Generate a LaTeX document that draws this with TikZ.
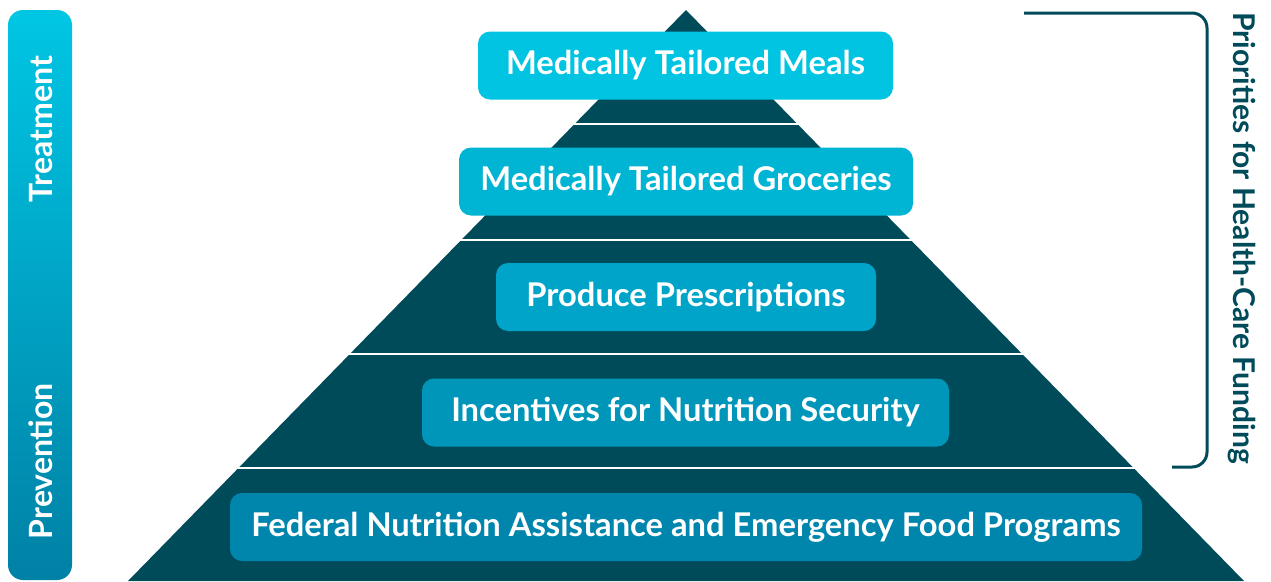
\documentclass[tikz,border=0pt]{standalone}
\usepackage{fontspec}
\setmainfont{Lato}
\definecolor{dark}{HTML}{004B5A}
\definecolor{cA}{HTML}{00C4E1}
\definecolor{cB}{HTML}{00B4D4}
\definecolor{cC}{HTML}{00A4C8}
\definecolor{cD}{HTML}{0096BA}
\definecolor{cE}{HTML}{0086AD}
\definecolor{barTop}{HTML}{00C6E4}
\definecolor{barBot}{HTML}{0081A5}
\tikzset{
  tier/.style={rounded corners=12pt, inner sep=0pt, text=white, font=\fontsize{32.7}{36}\selectfont\bfseries},
  sidelabel/.style={text=white, font=\fontsize{32}{36}\selectfont\bfseries, inner sep=0pt, anchor=base, rotate=90},
  sep/.style={white, line width=2pt},
}
\begin{document}
\begin{tikzpicture}[x=1pt,y=-1pt]
\useasboundingbox (0,0) rectangle (1271,581);
% pyramid
\fill[dark] (686,10) -- (1244,581) -- (128,581) -- cycle;
\foreach \yy in {124,240,354,468} {
  \draw[sep] (120,\yy) -- (1160,\yy);
}
% left bar
\shade[top color=barTop, bottom color=barBot, rounded corners=15pt] (8,10) rectangle (72,580);
\node[sidelabel] (treat) at (52,129) {Treatment};
\node[sidelabel] (prev) at (52,461) {Prevention};
% tiers
\node[tier, fill=cA, minimum width=415pt, minimum height=68pt] (t1) at (685.5,65.5) {Medically Tailored Meals};
\node[tier, fill=cB, minimum width=454pt, minimum height=68pt] (t2) at (686,181.5) {Medically Tailored Groceries};
\node[tier, fill=cC, minimum width=380pt, minimum height=68pt] (t3) at (686,297) {Produce Prescriptions};
\node[tier, fill=cD, minimum width=527pt, minimum height=68pt] (t4) at (685.5,412.5) {Incentives for Nutrition Security};
\node[tier, fill=cE, minimum width=912pt, minimum height=68pt] (t5) at (686,527) {Federal Nutrition Assistance and Emergency Food Programs};
% bracket
\coordinate (bA) at (1024,13);
\coordinate (bB) at (1207,13);
\coordinate (bC) at (1207,467);
\coordinate (bD) at (1172,467);
\draw[dark, line width=3pt, rounded corners=15pt] (bA) -- (bB) -- (bC) -- (bD);
\node[text=dark, font=\fontsize{30}{34}\selectfont\bfseries, inner sep=0pt, anchor=base, rotate=-90] (prio) at (1233,238) {Priorities for Health-Care Funding};
\end{tikzpicture}
\end{document}
